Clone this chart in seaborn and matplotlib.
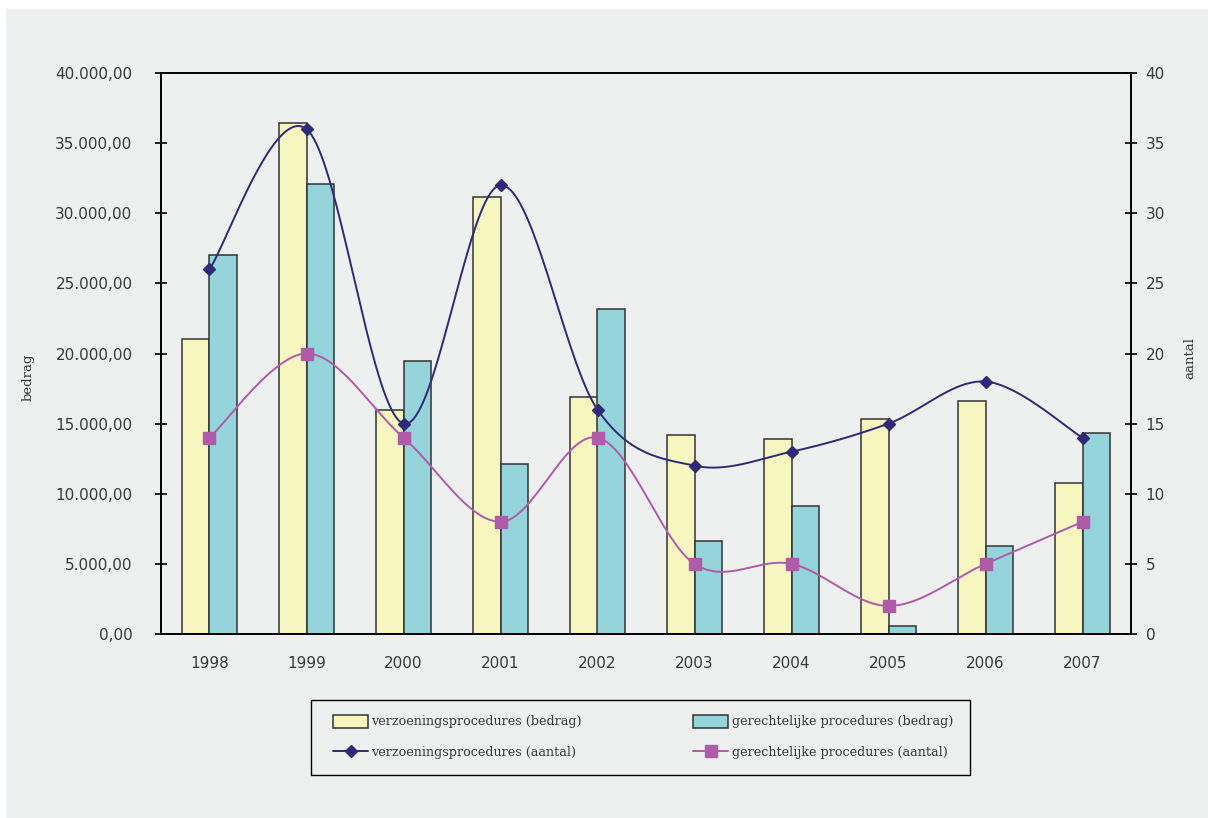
import numpy as np
import pandas as pd
import matplotlib
matplotlib.use("Agg")
import matplotlib.pyplot as plt
from matplotlib.ticker import FuncFormatter, FixedLocator
from matplotlib.patches import Rectangle, Patch
from matplotlib.lines import Line2D
import seaborn as sns

years = ["1998", "1999", "2000", "2001", "2002", "2003", "2004", "2005", "2006", "2007"]
verzoening_bedrag = [21050, 36450, 16000, 31150, 16900, 14200, 13900, 15300, 16600, 10800]
gerechtelijk_bedrag = [27000, 32100, 19500, 12100, 23200, 6650, 9100, 600, 6300, 14300]
verzoening_aantal = [26, 36, 15, 32, 16, 12, 13, 15, 18, 14]
gerechtelijk_aantal = [14, 20, 14, 8, 14, 5, 5, 2, 5, 8]

lab_vb = "verzoeningsprocedures (bedrag)"
lab_gb = "gerechtelijke procedures (bedrag)"
lab_va = "verzoeningsprocedures (aantal)"
lab_ga = "gerechtelijke procedures (aantal)"

BG = "#EEF0EF"
YELLOW = "#F7F5C0"
TEAL = "#95D4DA"
NAVY = "#2E2A78"
PINK = "#B05BAA"
EDGE = "#333333"
TXT = "#3A3A3A"
W, H = 1208, 818

df = pd.DataFrame({
    "jaar": years * 2,
    "bedrag": verzoening_bedrag + gerechtelijk_bedrag,
    "soort": [lab_vb] * len(years) + [lab_gb] * len(years),
})

sns.set_theme(style="white")
plt.rcParams["font.family"] = ["DejaVu Sans"]

fig = plt.figure(figsize=(W / 100, H / 100), dpi=100)
fig.patch.set_facecolor("white")
fig.patches.append(Rectangle((6 / W, 0), 1, 1 - 9 / H, transform=fig.transFigure,
                             facecolor=BG, edgecolor="none", zorder=-10))

ax = fig.add_axes([161 / W, 1 - 634 / H, (1131 - 161) / W, (634 - 73) / H])
ax.set_facecolor(BG)

sns.barplot(data=df, x="jaar", y="bedrag", hue="soort", ax=ax,
            palette=[YELLOW, TEAL], width=0.577, edgecolor=EDGE, linewidth=1.1,
            saturation=1, legend=False, errorbar=None)

ax.set_xlim(-0.5, len(years) - 0.5)
ax.set_ylim(0, 40000)
ax.yaxis.set_major_locator(FixedLocator(np.arange(0, 40001, 5000)))


def nl_fmt(v, pos):
    s = f"{v:,.2f}"
    return s.replace(",", "X").replace(".", ",").replace("X", ".")


ax.yaxis.set_major_formatter(FuncFormatter(nl_fmt))

# category labels in the middle, tick marks on the boundaries
ax.set_xticks(np.arange(len(years)))
ax.set_xticklabels(years)
ax.set_xticks(np.arange(len(years) + 1) - 0.5, minor=True)
ax.tick_params(axis="x", which="major", length=0, pad=16, labelsize=11, labelcolor=TXT)
ax.tick_params(axis="x", which="minor", direction="inout", length=9, width=1.2, color="black")
ax.tick_params(axis="y", which="major", direction="inout", length=9, width=1.2, color="black",
               pad=16, labelsize=11, labelcolor=TXT)

for sp in ax.spines.values():
    sp.set_visible(True)
    sp.set_color("black")
    sp.set_linewidth(1.4)

ax.set_xlabel("")
ax.set_ylabel("bedrag", family="DejaVu Serif", fontsize=9.5, color=TXT)
ax.yaxis.set_label_coords(-(161 - 35) / (1131 - 161), 1 - (377 - 73) / (634 - 73))


def smooth(xs, ys, n=40):
    """Cubic Bezier smoothing through every point (Catmull-Rom tangents)."""
    P = np.column_stack([xs, ys]).astype(float)
    m = len(P)
    out = []
    for i in range(m - 1):
        p0 = P[max(i - 1, 0)]
        p1 = P[i]
        p2 = P[i + 1]
        p3 = P[min(i + 2, m - 1)]
        c1 = p1 + (p2 - p0) / 6
        c2 = p2 - (p3 - p1) / 6
        t = np.linspace(0, 1, n)[:, None]
        seg = ((1 - t) ** 3) * p1 + 3 * ((1 - t) ** 2) * t * c1 + 3 * (1 - t) * t ** 2 * c2 + t ** 3 * p2
        out.append(seg if i == 0 else seg[1:])
    return np.vstack(out)


ax2 = ax.twinx()
ax2.set_ylim(0, 40)
ax2.yaxis.set_major_locator(FixedLocator(np.arange(0, 41, 5)))
xpos = np.arange(len(years))

for vals, col, mk, ms in [(verzoening_aantal, NAVY, "D", 6),
                          (gerechtelijk_aantal, PINK, "s", 8)]:
    curve = smooth(xpos, vals)
    sns.lineplot(x=curve[:, 0], y=curve[:, 1], ax=ax2, color=col, linewidth=1.4,
                 sort=False, estimator=None)
    ax2.plot(xpos, vals, linestyle="none", marker=mk, markersize=ms,
             color=col, markeredgecolor=col)

ax2.tick_params(axis="y", which="major", direction="inout", length=9, width=1.2, color="black",
                pad=6, labelsize=11, labelcolor=TXT, right=True)
for sp in ax2.spines.values():
    sp.set_visible(False)
ax2.set_ylabel("aantal", family="DejaVu Serif", fontsize=9.5, color=TXT, rotation=90)
ax2.yaxis.set_label_position("right")
ax2.yaxis.set_label_coords(1 + (1183 - 1131) / (1131 - 161), 1 - (358 - 73) / (634 - 73))

# legend frame and its contents
fig.patches.append(Rectangle((311 / W, 1 - 775 / H), (970 - 311) / W, 75 / H,
                             transform=fig.transFigure, facecolor=BG, edgecolor="black",
                             linewidth=1.0, zorder=5))
handles = [
    Patch(facecolor=YELLOW, edgecolor=EDGE, linewidth=1.1, label=lab_vb),
    Line2D([], [], color=NAVY, marker="D", markersize=6, linewidth=1.4, label=lab_va),
    Patch(facecolor=TEAL, edgecolor=EDGE, linewidth=1.1, label=lab_gb),
    Line2D([], [], color=PINK, marker="s", markersize=8, linewidth=1.4, label=lab_ga),
]
leg = fig.legend(handles=handles, ncol=2, mode="expand",
                 bbox_to_anchor=(333 / W, 1 - 760 / H, (953 - 333) / W, 46 / H),
                 loc="center", frameon=False,
                 prop={"family": "DejaVu Serif", "size": 9.2}, handlelength=2.75,
                 handleheight=1.2, handletextpad=0.25, labelspacing=1.35, borderpad=0,
                 borderaxespad=0)
leg.set_zorder(6)
for t in leg.get_texts():
    t.set_color(TXT)

fig.savefig("out.png", dpi=100, facecolor=fig.get_facecolor())
